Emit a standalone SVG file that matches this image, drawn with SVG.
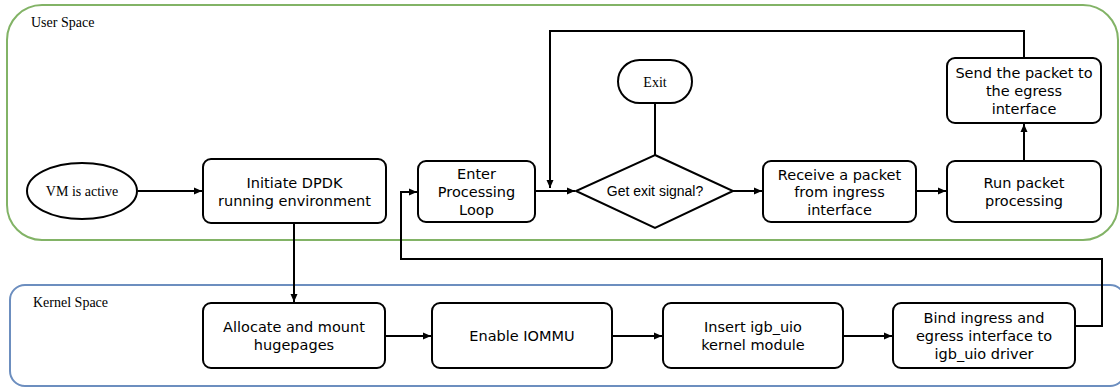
<svg xmlns="http://www.w3.org/2000/svg" width="1120" height="388" viewBox="0 0 1120 388">
<defs>
<marker id="ah" markerWidth="10" markerHeight="10" refX="9" refY="5" orient="auto" markerUnits="userSpaceOnUse">
<path d="M1,1.5 L9,5 L1,8.5 Z" fill="#000"/>
</marker>
<style>
.box{fill:#fff;stroke:#000;stroke-width:2}
.t{font-family:"DejaVu Sans",Verdana,sans-serif;font-size:14.5px;fill:#000;text-anchor:middle}
.s{font-family:"Liberation Serif","Times New Roman",serif;font-size:14px;fill:#000}
.a{font-family:"Liberation Sans",Arial,sans-serif;font-size:14px;fill:#000;text-anchor:middle}
.c{fill:none;stroke:#000;stroke-width:2}
</style>
</defs>
<rect width="1120" height="388" fill="#fff"/>
<g id="user-space">
<rect x="7" y="5" width="1111" height="235" rx="35" fill="none" stroke="#82b366" stroke-width="2"/>
<text class="s" x="31" y="27">User Space</text>
</g>
<g id="kernel-space">
<rect x="10" y="285" width="1115" height="101" rx="15" fill="none" stroke="#6c8ebf" stroke-width="2"/>
<text class="s" x="33" y="307">Kernel Space</text>
</g>
<g id="connectors">
<path class="c" d="M138,191 L202,191" marker-end="url(#ah)"/>
<path class="c" d="M294,223 L294,302" marker-end="url(#ah)"/>
<path class="c" d="M385,336 L431,336" marker-end="url(#ah)"/>
<path class="c" d="M612,336 L662,336" marker-end="url(#ah)"/>
<path class="c" d="M843,336 L892,336" marker-end="url(#ah)"/>
<path class="c" d="M1075,326 L1102,326 L1102,259 L401,259 L401,192 L417,192" marker-end="url(#ah)"/>
<path class="c" d="M535,191 L575,191" marker-end="url(#ah)"/>
<path class="c" d="M733,191 L762,191" marker-end="url(#ah)"/>
<path class="c" d="M916,191 L946,191" marker-end="url(#ah)"/>
<path class="c" d="M1024,161 L1024,124" marker-end="url(#ah)"/>
<path class="c" d="M1024,58 L1024,31 L550,31 L550,188" marker-end="url(#ah)"/>
<path class="c" d="M655,103 L655,155"/>
</g>
<g id="vm-active">
<ellipse cx="82" cy="191" rx="55" ry="28" class="box"/>
<text class="s" x="82" y="196" text-anchor="middle" font-size="15">VM is active</text>
</g>
<g id="initiate-dpdk">
<rect x="203" y="159" width="183" height="64" rx="8" class="box"/>
<text class="t" x="294.5" y="188">Initiate DPDK</text>
<text class="t" x="294.5" y="206">running environment</text>
</g>
<g id="enter-loop">
<rect x="418" y="161" width="117" height="61" rx="8" class="box"/>
<text class="t" x="476.5" y="179">Enter</text>
<text class="t" x="476.5" y="197">Processing</text>
<text class="t" x="476.5" y="215">Loop</text>
</g>
<g id="exit">
<rect x="618" y="60" width="74" height="43" rx="21.5" class="box"/>
<text class="s" x="655" y="87" text-anchor="middle">Exit</text>
</g>
<g id="exit-signal">
<polygon points="655,155 733,191 655,228 576,191" class="box"/>
<text class="a" x="655" y="196">Get exit signal?</text>
</g>
<g id="receive-packet">
<rect x="763" y="161" width="153" height="61" rx="8" class="box"/>
<text class="t" x="839.5" y="180">Receive a packet</text>
<text class="t" x="839.5" y="197">from ingress</text>
<text class="t" x="839.5" y="215">interface</text>
</g>
<g id="run-processing">
<rect x="947" y="161" width="154" height="61" rx="8" class="box"/>
<text class="t" x="1024" y="188">Run packet</text>
<text class="t" x="1024" y="206">processing</text>
</g>
<g id="send-packet">
<rect x="947" y="58" width="154" height="65" rx="8" class="box"/>
<text class="t" x="1024" y="78">Send the packet to</text>
<text class="t" x="1024" y="96">the egress</text>
<text class="t" x="1024" y="114">interface</text>
</g>
<g id="allocate-hugepages">
<rect x="203" y="303" width="182" height="65" rx="8" class="box"/>
<text class="t" x="294" y="332">Allocate and mount</text>
<text class="t" x="294" y="350">hugepages</text>
</g>
<g id="enable-iommu">
<rect x="432" y="303" width="180" height="65" rx="8" class="box"/>
<text class="t" x="522" y="341">Enable IOMMU</text>
</g>
<g id="insert-igb-uio">
<rect x="663" y="303" width="180" height="65" rx="8" class="box"/>
<text class="t" x="753" y="332">Insert igb_uio</text>
<text class="t" x="753" y="350">kernel module</text>
</g>
<g id="bind-interfaces">
<rect x="893" y="303" width="182" height="65" rx="8" class="box"/>
<text class="t" x="984" y="323">Bind ingress and</text>
<text class="t" x="984" y="341">egress interface to</text>
<text class="t" x="984" y="359">igb_uio driver</text>
</g>
</svg>
